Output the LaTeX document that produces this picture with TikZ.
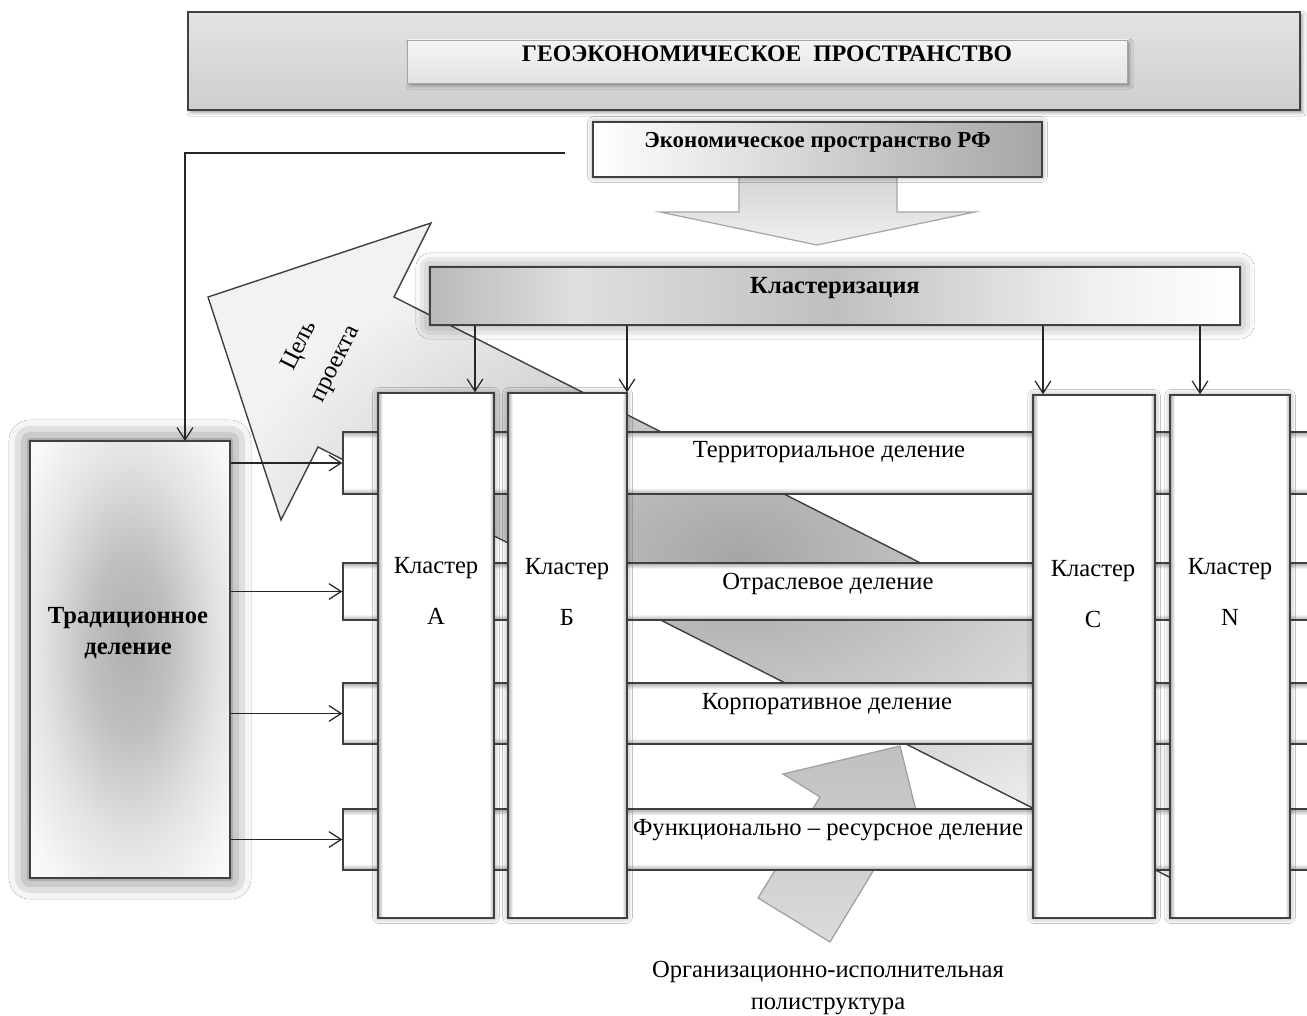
\documentclass[tikz,border=0pt]{standalone}
\usepackage{fontspec}
\setmainfont{Liberation Serif}
\usetikzlibrary{arrows.meta,fit,shadows.blur}

% inner shadows of the white boxes
\pgfdeclarehorizontalshading{colshade}{100bp}{color(0bp)=(gray!70); color(25bp)=(gray!70); color(27bp)=(white); color(73bp)=(white); color(75bp)=(gray!70); color(100bp)=(gray!70)}
\pgfdeclareverticalshading{rowshade}{100bp}{color(0bp)=(gray!65); color(25bp)=(gray!65); color(30bp)=(white); color(70bp)=(white); color(75bp)=(gray!65); color(100bp)=(gray!65)}
\pgfdeclarehorizontalshading{clustshade}{100bp}{color(0bp)=(gray!55); color(25bp)=(gray!55); color(34bp)=(gray!25); color(50bp)=(gray!50); color(66bp)=(gray!12); color(75bp)=(white); color(100bp)=(white)}
\pgfdeclareradialshading{tradshade}{\pgfpoint{0bp}{2bp}}{color(0bp)=(gray!62); color(10bp)=(gray!50); color(22bp)=(gray!22); color(32bp)=(gray!6); color(40bp)=(white); color(50bp)=(white)}

\tikzset{
  base/.style={font=\fontsize{14}{18}\selectfont},
  bold/.style={font=\fontsize{14}{18}\selectfont\bfseries},
  glow/.style={blur shadow={shadow xshift=0pt, shadow yshift=0pt, shadow blur radius=#1, shadow opacity=45}},
  glow/.default=4pt,
  outline/.style={draw=black!75, line width=0.8pt},
  rowbar/.style={outline, shade, shading=rowshade, inner sep=0pt},
  colbox/.style={outline, shade, shading=colshade, inner sep=0pt, glow=3pt},
  topbox/.style={outline, top color=gray!22, bottom color=gray!38, inner sep=0pt,
    blur shadow={shadow xshift=1.5pt, shadow yshift=-1.5pt, shadow blur radius=2pt}},
  innerbox/.style={draw=gray!70, top color=gray!8, bottom color=gray!22, inner sep=0pt,
    blur shadow={shadow xshift=1.5pt, shadow yshift=-1.5pt, shadow blur radius=2pt}},
  econbox/.style={outline, left color=white, right color=gray!70, inner sep=0pt, glow=3pt},
  clustbox/.style={outline, shade, shading=clustshade, inner sep=0pt, glow=8pt},
  tradbox/.style={outline, shade, shading=tradshade, inner sep=0pt,
    blur shadow={shadow xshift=0pt, shadow yshift=0pt, shadow blur radius=12pt, shadow opacity=65}},
  goalarrow/.style={outline, inner color=gray!70, outer color=gray!10},
  execarrow/.style={draw=gray!75, line width=0.7pt, top color=gray!50, bottom color=gray!28},
  downarrow/.style={draw=gray!70, line width=0.7pt, top color=gray!35, bottom color=gray!12},
  link/.style={-{Straight Barb[length=7pt,width=9pt]}, draw=black!85, line width=0.7pt}
}

\begin{document}
\begin{tikzpicture}[x=0.02cm, y=-0.02cm, base]
  \clip (0,0) rectangle (1307,1016);
  \fill[white] (0,0) rectangle (1307,1016);

  % project goal arrow, lies behind everything
  \draw[goalarrow] (208,297) -- (431,223) -- (394,297) -- (1269,739)
    -- (1193,889) -- (318,447) -- (281,520) -- cycle;
  \node[rotate=63.5, align=center] (goal) at (318,355) {Цель\\[5pt]проекта};

  % executive structure arrow
  \draw[execarrow] (758,898) -- (820,797) -- (783,774) -- (900,746)
    -- (929,863) -- (892,840) -- (830,942) -- cycle;

  % division bars
  \node[rowbar, fit={(343,432) (1330,494)}] (barT) {};
  \node[rowbar, fit={(343,563) (1330,620)}] (barO) {};
  \node[rowbar, fit={(343,683) (1330,744)}] (barK) {};
  \node[rowbar, fit={(343,809) (1330,870)}] (barF) {};

  \node (lblT) at (829,452) {Территориальное деление};
  \node (lblO) at (828,584) {Отраслевое деление};
  \node (lblK) at (827,704) {Корпоративное деление};
  \node (lblF) at (828,830) {Функционально -- ресурсное деление};

  % clusters
  \node[colbox, fit={(378,393) (494,918)}] (clA) {};
  \node[colbox, fit={(508,393) (627,918)}] (clB) {};
  \node[colbox, fit={(1033,395) (1155,918)}] (clC) {};
  \node[colbox, fit={(1170,395) (1290,918)}] (clN) {};

  \node[align=center] (labA) at (436,591) {Кластер\\[11pt]А};
  \node[align=center] (labB) at (567,592) {Кластер\\[11pt]Б};
  \node[align=center] (labC) at (1093,594) {Кластер\\[11pt]C};
  \node[align=center] (labN) at (1230,592) {Кластер\\[11pt]N};

  % geo-economic space
  \node[topbox, fit={(188,12) (1300,110)}] (geo) {};
  \node[innerbox, fit={(407,40) (1127,83)}, font=\fontsize{13.5}{18}\selectfont\bfseries] (geoin) {ГЕОЭКОНОМИЧЕСКОЕ\ \ ПРОСТРАНСТВО};

  % block arrow down, under the economic space box
  \draw[downarrow] (739,170) -- (739,212) -- (660,212) -- (817,245)
    -- (975,212) -- (897,212) -- (897,170);

  \node[econbox, fit={(593,122) (1042,177)}, font=\fontsize{13}{18}\selectfont\bfseries] (econ) {Экономическое пространство РФ};
  \node[clustbox, fit={(430,267) (1240,325)}, bold] (clust) {Кластеризация};

  % traditional division
  \node[tradbox, fit={(30,441) (230,878)}] (trad) {};
  \node[bold, align=center] (tradlbl) at (128,633) {Традиционное\\деление};

  % arrows to the bars
  \foreach \b in {barT,barO,barK,barF}
    \draw[link] (trad.east |- \b.west) -- (\b.west);

  % arrows from clusterization down to the clusters
  \foreach \x/\c in {475/clA,627/clB,1043/clC,1200/clN}{
    \coordinate (top\c) at (\x,0);
    \draw[link] (top\c |- clust.south) -- (top\c |- \c.north);
  }

  % economic space to traditional division
  \coordinate (econout) at (565,153);
  \coordinate (tradin) at (185,441);
  \draw[link] (econout) -| (tradin);

  % bottom caption
  \node[align=center] (polycap) at (828,988) {Организационно-исполнительная\\полиструктура};
\end{tikzpicture}
\end{document}
